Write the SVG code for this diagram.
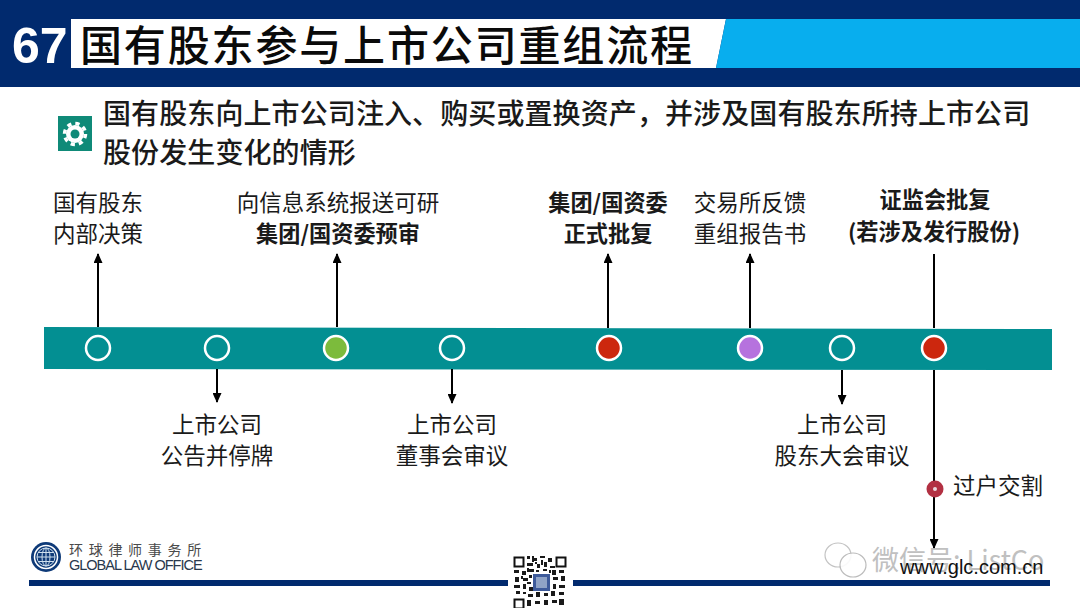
<svg xmlns="http://www.w3.org/2000/svg" width="1080" height="608" viewBox="0 0 1080 608">
<style>
text{font-family:"Liberation Sans","Noto Sans CJK SC",sans-serif;fill:#1a1a1a}
.cjk{font-family:"Noto Sans CJK SC","Liberation Sans",sans-serif}
.lb{font-size:22.500px;text-anchor:middle}
.bd{font-weight:700;font-size:22.200px}
.ln{stroke:#000;stroke-width:2;fill:none}
.ar{marker-end:url(#a)}
.dot{stroke:#fff;stroke-width:2.5}
</style>
<defs><marker id="a" markerUnits="userSpaceOnUse" markerWidth="10" markerHeight="9" refX="9" refY="4.5" orient="auto"><path d="M0 0L10 4.500L0 9z" fill="#000"/></marker></defs>
<g id="header">
<rect width="1080" height="87" fill="#012a6e"/>
<polygon points="71,19 726,19 716,68 71,68" fill="#fff"/>
<polygon points="726,19 1080,19 1080,68 716,68" fill="#08aeee"/>
<text x="12" y="63" font-size="50" font-weight="700" style="fill:#fff">67</text>
<text class="cjk" x="80" y="61" font-size="42" font-weight="500" style="fill:#0a0a0a;letter-spacing:1.850px">国有股东参与上市公司重组流程</text>
</g>
<g id="subtitle">
<rect x="58" y="116" width="34" height="35" fill="#0f8a78"/>
<circle cx="75" cy="134" r="9" fill="#fff"/>
<circle cx="75" cy="134" r="10.500" fill="none" stroke="#fff" stroke-width="3.500" stroke-dasharray="4.250 4"/>
<circle cx="75" cy="134" r="4.500" fill="#0f8a78"/>
<text class="cjk" x="103" y="124" font-size="28" font-weight="500" style="letter-spacing:.1px">国有股东向上市公司注入、购买或置换资产，并涉及国有股东所持上市公司</text>
<text class="cjk" x="103" y="163" font-size="28" font-weight="500" style="letter-spacing:.1px">股份发生变化的情形</text>
</g>
<g id="timeline-bar"><polygon points="44,327 1052,329 1052,370 44,369" fill="#038f92"/></g>
<g id="connectors">
<path class="ln ar" d="M98 327V254"/>
<path class="ln ar" d="M337 327V254"/>
<path class="ln ar" d="M608 328V254"/>
<path class="ln ar" d="M750 328V254"/>
<path class="ln" d="M934 328V254"/>
<path class="ln ar" d="M217 369V402"/>
<path class="ln ar" d="M452 369V403"/>
<path class="ln ar" d="M842 370V404"/>
<path class="ln ar" d="M934 370V548"/>
</g>
<g id="node-1"><circle class="dot" cx="98" cy="348" r="12" fill="#038f92"/><text class="cjk lb" x="98" y="211">国有股东</text><text class="cjk lb" x="98" y="242">内部决策</text></g>
<g id="node-2"><circle class="dot" cx="217" cy="348" r="12" fill="#038f92"/><text class="cjk lb" x="217" y="433">上市公司</text><text class="cjk lb" x="217" y="464">公告并停牌</text></g>
<g id="node-3"><circle class="dot" cx="336" cy="348" r="12" fill="#7cbb3c"/><text class="cjk lb" x="338" y="211">向信息系统报送可研</text><text class="cjk lb bd" x="338" y="242">集团/国资委预审</text></g>
<g id="node-4"><circle class="dot" cx="452" cy="348" r="12" fill="#038f92"/><text class="cjk lb" x="452" y="433">上市公司</text><text class="cjk lb" x="452" y="464">董事会审议</text></g>
<g id="node-5"><circle class="dot" cx="609" cy="348" r="12" fill="#cc270e"/><text class="cjk lb bd" x="608" y="211">集团/国资委</text><text class="cjk lb bd" x="608" y="242">正式批复</text></g>
<g id="node-6"><circle class="dot" cx="750" cy="348" r="12" fill="#b672de"/><text class="cjk lb" x="750" y="211">交易所反馈</text><text class="cjk lb" x="750" y="242">重组报告书</text></g>
<g id="node-7"><circle class="dot" cx="842" cy="348" r="12" fill="#038f92"/><text class="cjk lb" x="842" y="433">上市公司</text><text class="cjk lb" x="842" y="464">股东大会审议</text></g>
<g id="node-8"><circle class="dot" cx="934" cy="348" r="12" fill="#cc270e"/><text class="cjk lb bd" x="935" y="208">证监会批复</text><text class="cjk lb bd" x="934" y="240">(若涉及发行股份)</text></g>
<g id="node-9"><circle cx="935" cy="489" r="8.500" fill="#b23042"/><circle cx="935" cy="489" r="2" fill="#e8d8dc"/><text class="cjk" x="953" y="494" font-size="22.500">过户交割</text></g>
<g id="footer">
<rect x="29" y="580" width="479" height="6" fill="#012a6e"/>
<rect x="573" y="580" width="477" height="6" fill="#012a6e"/>
<circle cx="46" cy="557" r="15" fill="#0e3a78"/><circle cx="46" cy="557" r="11.500" fill="none" stroke="#fff" stroke-width="1.500"/>
<g fill="none" stroke="#cfe0ee" stroke-width="1"><circle cx="46" cy="557" r="9"/><ellipse cx="46" cy="557" rx="4" ry="9"/><path d="M37 557H55M46 548V566M38 552.500H54M38 561.500H54"/></g>
<text class="cjk" x="69" y="555" font-size="14" style="fill:#4a4a4a;letter-spacing:5.700px">环球律师事务所</text>
<text x="69" y="570" font-size="14.500" style="fill:#28384c;letter-spacing:-1px">GLOBAL LAW OFFICE</text>
<g id="qr"><rect x="511" y="553" width="59" height="55" fill="#fff"/>
<rect x="514.500" y="557.500" width="9" height="9" fill="none" stroke="#111" stroke-width="2"/>
<rect x="556.500" y="557.500" width="9" height="9" fill="none" stroke="#111" stroke-width="2"/>
<rect x="514.500" y="599.500" width="9" height="9" fill="none" stroke="#111" stroke-width="2"/>
<path d="M527 556h3v3h-3zM532 556h2v6h-2zM533 558h4v3h-4zM540 556h5v2h-5zM548 558h4v4h-4zM527 563h6v3h-6zM535 562h2v2h-2zM537 564h3v4h-3zM541 560h2v5h-2zM544 562h3v5h-3zM550 566h5v2h-5zM514 570h5v3h-5zM522 571h4v4h-4zM527 568h2v4h-2zM529 569h5v3h-5zM536 570h3v2h-3zM543 569h4v2h-4zM549 570h2v3h-2zM552 570h4v5h-4zM559 570h5v3h-5zM515 577h4v5h-4zM521 576h2v3h-2zM523 578h5v3h-5zM529 575h3v3h-3zM553 577h5v3h-5zM561 576h4v5h-4zM514 585h6v3h-6zM523 584h3v5h-3zM529 587h4v4h-4zM527 582h4v2h-4zM553 584h3v5h-3zM559 585h6v3h-6zM516 591h4v3h-4zM523 592h3v2h-3zM528 594h5v3h-5zM536 592h4v5h-4zM544 593h4v3h-4zM551 591h4v5h-4zM559 592h5v3h-5zM527 600h4v6h-4zM535 601h5v3h-5zM544 600h4v5h-4zM552 600h5v3h-5zM559 599h5v6h-5z" fill="#1a1a1a"/>
<rect x="533" y="574" width="17" height="17" fill="#3d5a9a"/><rect x="536" y="577" width="11" height="11" fill="#8fa3c6"/></g>
</g>
<g id="watermark" fill="#fff" stroke="#b5b5b5" stroke-width="1.200">
<ellipse cx="838" cy="555" rx="13" ry="12" opacity=".8"/><ellipse cx="853" cy="565" rx="13" ry="12" opacity=".9"/>
<text class="cjk" x="872" y="570" font-size="27" style="fill:#ababab;stroke:none;opacity:.75">微信号: ListCo</text>
</g>
<text id="url" x="900" y="574" font-size="20" style="fill:#111">www.glc.com.cn</text>
</svg>
